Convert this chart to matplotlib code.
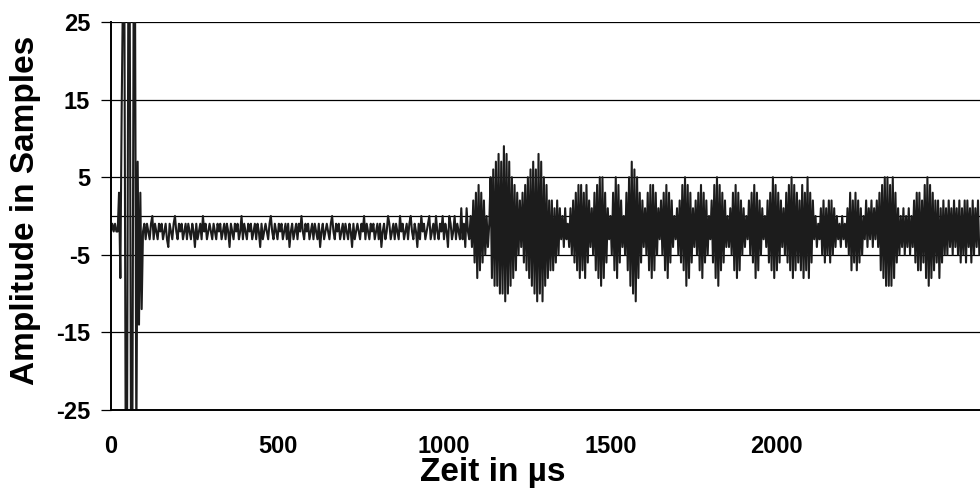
import numpy as np
import matplotlib
matplotlib.use("Agg")
from matplotlib import pyplot as plt

plt.rcParams['font.family'] = ['Liberation Sans', 'DejaVu Sans']
plt.rcParams['axes.unicode_minus'] = False

# sample spacing of the recording in microseconds
dt_us = 4.0

# amplitude samples, segment by segment
start_quiet = [-2, -1, -2, -1, -2]
pulse = [-2, 3, -8, 14, 30, 30, -30, -30, 30, 30, -30, -30, 30, 30, -30, 7, -14, 3, -12]
quiet = [
    -2, -1, -3, -1, -2, -3, -1, 0, -3, -1, -2, -3, -1, -2, -1, -3, -2, -1, -3, -4,
    -1, -2, -3, -1, 0, -2, -3, -1, -2, -1, -3, -2, -1, -3, -1, -2, -3, -1, -2, -4,
    -1, -3, -2, -1, -3, 0, -2, -1, -3, -2, -1, -2, -3, -1, -2, -3, -1, -2, -1, -3,
    -2, -1, -3, -1, -2, -4, -1, -2, -3, -1, -2, -1, -3, -2, 0, -3, -1, -2, -3, -1,
    -2, -1, -3, -2, -1, -3, -1, -2, -4, -1, -3, -2, -1, -2, -3, -1, 0, -2, -3, -1,
    -2, -3, -1, -2, -1, -3, -2, -1, -3, -1, -4, -2, -1, -3, -2, -1, -3, -1, -2, 0,
    -2, -3, -1, -2, -1, -3, -2, -1, -3, -1, -2, -3, -1, -4, -2, -1, -3, -2, -1, -2,
    -3, -1, 0, -2, -3, -1, -2, -1, -3, -2, -1, -3, -1, -2, -3, -1, -2, -4, -1, -3,
    -2, -1, -2, -3, -1, -2, 0, -3, -1, -2, -3, -1, -2, -1, -3, -2, -1, -3, -1, -4,
    -2, -1, -3, -2, 0, -1, -3, -2, -1, -3, -1, -2, -3, 0, -2, -1, -3, -2, -1, -3,
    -1, 0, -2, -3, -1, -2, -4, -1, -3, 0, -2, -1, -3, -2, -1, 0, -3, -2, -1, -3,
    0, -2, -3, -1, -2, 0, -3, -1, -2, -4, 0, -1, -3, -2, 0, -3, -1, -2, -3,
]
echo_a = [
    1, -3, -1, -4, 1, -2, -3,
    0, -4, 2, -6, 3, -8, 4, -7, 3, -6, 2, -5, 0, -4,
    -1,
    5, -8, 6, -9, 7, -9, 8, -10, 7, -10, 9, -11, 8, -10, 7, -9, 5, -8, 4, -7, 3, -5, 2,
    -4,
    3, -6, 4, -7, 5, -8, 6, -9, 7, -10, 6, -11, 8, -10, 7, -11, 5, -9, 4, -8, 2, -7,
    2, -7, 1, -6, 2, -5,
    1, -3, 0, -4, 1, -3, -1, -4, 1,
    -5, 2, -6, 3, -7, 4, -8, 4, -7, 3, -8, 4, -6, 2, -4,
    1, -5, 3, -7, 4, -8, 5, -9, 5, -8, 3, -6, 1,
    -3, 0,
    -5, 3, -7, 5, -8, 4, -6, 2, -4,
    0,
    -5, 3, -7, 5, -9, 7, -10, 6, -11, 5, -8, 3, -6, 2,
]
echo_b = [
    -4, 1, -5, 3, -7, 4, -8, 4, -7, 3, -5, 1,
    -3, 2, -5, 3, -7, 4, -8, 3, -6, 2, -4, 0,
    -3, 1, -5, 2, -6, 4, -7, 5, -9, 4, -8, 3, -6, 1,
    -4, 2, -5, 3, -7, 4, -8, 3, -6, 2, -5, 0,
    -3, 2, -6, 4, -8, 5, -9, 4, -7, 3, -6, 2, -4, 0,
    -4, 1, -5, 3, -7, 4, -8, 3, -7, 2, -5, 1, -4, 0,
    -3, 2, -5, 3, -6, 4, -8, 3, -7, 2, -5, 1, -3, 0,
    -4, 2, -6, 3, -7, 5, -8, 4, -7, 3, -6, 2, -4, 1,
    -5, 3, -6, 4, -7, 5, -8, 4, -7, 3, -6, 2,
]
echo_c = [
    -7, 4, -8, 3, -7, 5, -8, 3, -6, 2,
    -3, 0, -4, -1, -3,
    1, -5, 2, -6, 1, -5, 2, -6, 2, -5, 1, -4,
    0, -3, -1, -4, 0, -3, -1, -4,
    1, -5, 3, -7, 2, -6, 3, -7, 2, -6, 1, -5, 0,
    -3, 2, -4, 1, -3, 2, -4, 1, -3, 2, -4,
    3, -7, 4, -8, 5, -9, 5, -9, 4, -9, 5, -8, 3, -6,
    1, -5, 0, -4, 1, -5, 0, -4, 1, -5, 0, -4,
    2, -6, 3, -7, 3, -7, 2, -6,
    4, -8, 5, -9, 4, -8, 3,
    -7, 2, -6, 2, -8, 1, -6, 2, -5, 1,
    -5, 2, -4, 1, -5, 2, -4, 1, -5, 2,
    -6, 1, -5, 2, -6, 2, -4, 1, -6, 2, -5, 1, -4, 2, -5,
]

amplitude = np.array(start_quiet + pulse + quiet + echo_a + echo_b + echo_c, dtype=float)
time_us = np.arange(len(amplitude)) * dt_us

y_ticks = [-25, -15, -5, 5, 15, 25]
x_ticks = [0, 500, 1000, 1500, 2000]

fig = plt.figure(figsize=(9.8, 4.96), dpi=100)
ax = fig.add_axes([0.1133, 0.1734, 0.8867, 0.7823])

for yv in y_ticks:
    ax.axhline(yv, color='black', lw=0.9, zorder=1)
ax.axhline(0, color='black', lw=0.9, zorder=1)

ax.plot(time_us, amplitude, color='#1c1c1c', lw=1.5, zorder=2)

ax.set_xlim(0, 2610)
ax.set_ylim(-25, 25)
ax.set_yticks(y_ticks)
ax.set_xticks(x_ticks)

for s in ['top', 'right']:
    ax.spines[s].set_visible(False)
ax.spines['left'].set_linewidth(1.4)
ax.spines['bottom'].set_linewidth(1.4)

ax.tick_params(axis='y', length=7, width=0.9, pad=8, labelsize=17)
ax.tick_params(axis='x', length=0, pad=18, labelsize=17)
for lab in ax.get_xticklabels() + ax.get_yticklabels():
    lab.set_fontweight('bold')

fig.text(493 / 980, 1 - 473 / 496, 'Zeit in µs', ha='center', va='center',
         fontsize=24, fontweight='bold')
fig.text(26 / 980, 1 - 210 / 496, 'Amplitude in Samples', ha='center', va='center',
         rotation=90, fontsize=24, fontweight='bold')

fig.savefig('out.png', dpi=100)
